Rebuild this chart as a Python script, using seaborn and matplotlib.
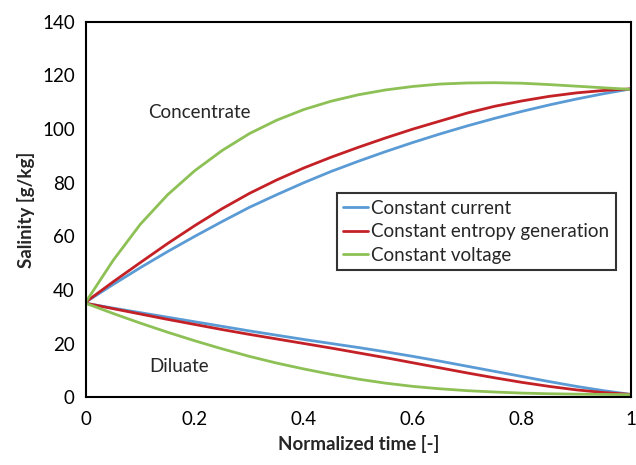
import pandas as pd
import matplotlib.pyplot as plt
import seaborn as sns

# normalized time points
time = [0, 0.05, 0.1, 0.15, 0.2, 0.25, 0.3, 0.35, 0.4, 0.45, 0.5,
        0.55, 0.6, 0.65, 0.7, 0.75, 0.8, 0.85, 0.9, 0.95, 1.0]

# concentrate salinity [g/kg]
conc_current = [35.5, 42, 48.3, 54.3, 60, 65.5, 70.8, 75.5, 80, 84.2, 88,
                91.6, 95, 98.2, 101.2, 104, 106.6, 109, 111.2, 113.2, 115]
conc_entropy = [35.5, 43, 50.2, 57.3, 64, 70.3, 76, 81, 85.5, 89.5, 93.2,
                96.7, 100, 103, 106, 108.5, 110.5, 112.2, 113.5, 114.4, 115]
conc_voltage = [35.5, 51, 64.5, 75.5, 84.5, 92, 98.3, 103.3, 107.3, 110.4, 112.8,
                114.6, 115.9, 116.8, 117.2, 117.3, 117.1, 116.6, 116, 115.4, 114.8]

# diluate salinity [g/kg]
dil_current = [35, 33.2, 31.5, 29.8, 28.1, 26.4, 24.7, 23.1, 21.5, 20, 18.5,
               16.9, 15.2, 13.4, 11.5, 9.6, 7.7, 5.8, 4.0, 2.4, 1.0]
dil_entropy = [35, 33, 31, 29, 27.1, 25.2, 23.4, 21.7, 20, 18.3, 16.5,
               14.7, 12.8, 10.9, 9, 7.2, 5.5, 4.0, 2.7, 1.7, 1.0]
dil_voltage = [35, 31.2, 27.6, 24.2, 21.0, 18.0, 15.2, 12.7, 10.5, 8.5, 6.7,
               5.2, 4.0, 3.1, 2.4, 1.9, 1.5, 1.25, 1.1, 1.0, 0.9]

methods = ["Constant current", "Constant entropy generation", "Constant voltage"]
colors = ["#5a9bd5", "#c42127", "#8dc055"]

series = {
    ("Constant current", "conc"): conc_current,
    ("Constant entropy generation", "conc"): conc_entropy,
    ("Constant voltage", "conc"): conc_voltage,
    ("Constant current", "dil"): dil_current,
    ("Constant entropy generation", "dil"): dil_entropy,
    ("Constant voltage", "dil"): dil_voltage,
}

rows = []
for (m, s), vals in series.items():
    for t, v in zip(time, vals):
        rows.append({"time": t, "salinity": v, "method": m, "stream": s})
df = pd.DataFrame(rows)

sns.set_style("white")
plt.rcParams["font.family"] = ["Lato", "DejaVu Sans"]
fs = 13.5

fig = plt.figure(figsize=(6.36, 4.65), dpi=100)
ax = fig.add_axes([0.135, 0.146, 0.857, 0.807])

sns.lineplot(data=df, x="time", y="salinity", hue="method", units="stream",
             estimator=None, hue_order=methods, palette=colors, linewidth=2, ax=ax)

ax.set_xlim(0, 1)
ax.set_ylim(0, 140)
ax.set_xticks([0, 0.2, 0.4, 0.6, 0.8, 1])
ax.set_xticklabels(["0", "0.2", "0.4", "0.6", "0.8", "1"])
ax.set_yticks(range(0, 141, 20))
ax.tick_params(direction="in", length=6, width=1.5, labelsize=fs, colors="black", pad=8)
ax.tick_params(axis="x", pad=10)
for sp in ax.spines.values():
    sp.set_color("black")
    sp.set_linewidth(1.5)

ax.set_xlabel("Normalized time [-]", fontsize=fs, fontweight="bold", labelpad=5)
ax.set_ylabel("Salinity [g/kg]", fontsize=fs, fontweight="bold", labelpad=5)

ax.text(0.114, 106, "Concentrate", fontsize=fs, va="center")
ax.text(0.116, 11.6, "Diluate", fontsize=fs, va="center")

leg = ax.legend(loc="upper left", bbox_to_anchor=(0.46, 0.544), fontsize=fs,
                frameon=True, fancybox=False, handlelength=1.3, handletextpad=0.2,
                borderpad=0.35, labelspacing=0.35, borderaxespad=0)
leg.get_frame().set_edgecolor("black")
leg.get_frame().set_linewidth(1.5)

plt.savefig("out.png", dpi=100)
